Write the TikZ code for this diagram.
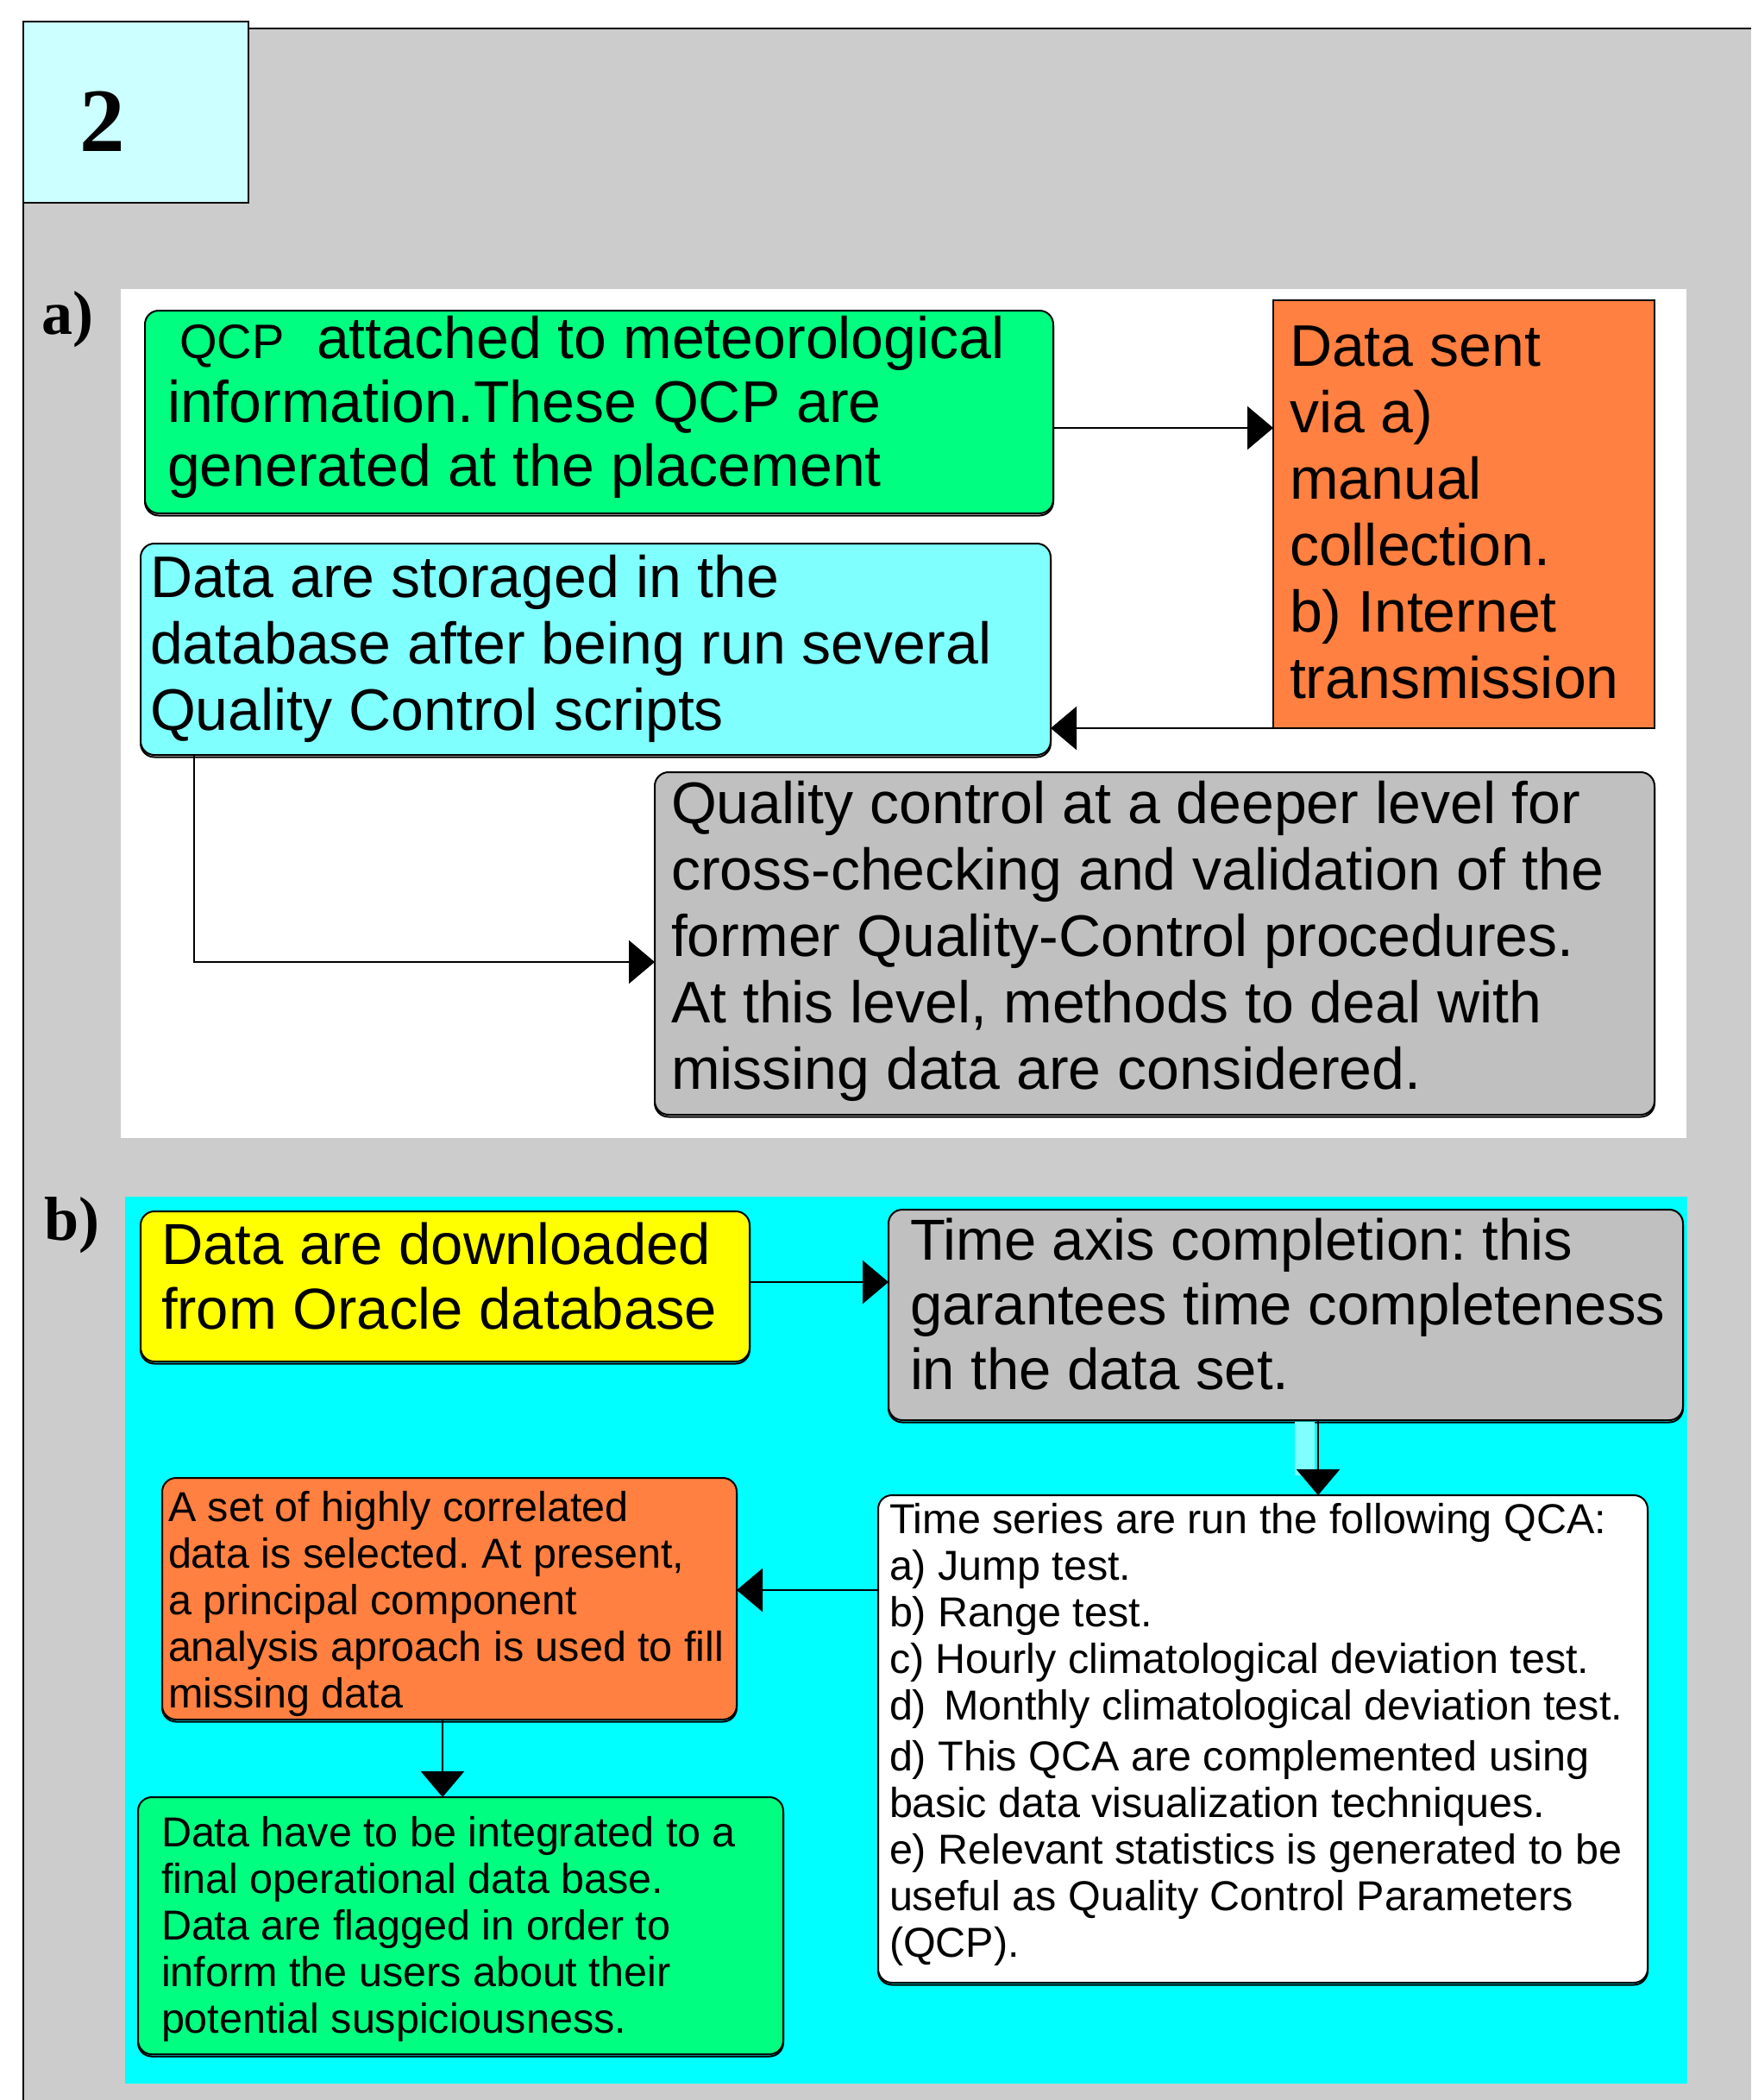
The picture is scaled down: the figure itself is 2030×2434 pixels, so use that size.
\documentclass[tikz,border=0pt]{standalone}
\usepackage{fontspec}
\setmainfont{Liberation Sans}
\newfontfamily\labelserif{Liberation Serif}
\usetikzlibrary{arrows.meta}
\definecolor{panelgray}{HTML}{CCCCCC}
\definecolor{numcyan}{HTML}{CCFFFF}
\definecolor{boxgreen}{HTML}{00FF80}
\definecolor{boxorange}{HTML}{FF8040}
\definecolor{boxcyan}{HTML}{80FFFF}
\definecolor{boxgray}{HTML}{C0C0C0}
\definecolor{panelcyan}{HTML}{00FFFF}
\definecolor{boxyellow}{HTML}{FFFF00}
\newcommand{\boxlines}[1]{\begin{tabular}[t]{@{}l@{}}#1\end{tabular}}
\frenchspacing
\begin{document}
\begin{tikzpicture}[x=1pt,y=-1pt,
  flowbox/.style={draw=black, line width=2pt, rounded corners=16pt, inner sep=0pt, outer sep=0pt, anchor=north west,
     preaction={draw=black, line width=2pt, transform canvas={yshift=-2.5pt}}},
  sharpbox/.style={draw=black, line width=2pt, inner sep=0pt, outer sep=0pt, anchor=north west},
  boxtext/.style={inner sep=0pt, outer sep=0pt, anchor=base west},
  bigtext/.style={font=\fontsize{68}{#1}\selectfont},
  smalltext/.style={font=\fontsize{48.5}{54}\selectfont},
  paneltag/.style={inner sep=0pt, anchor=base west, font=\labelserif\bfseries\fontsize{72}{80}\selectfont},
  arr/.style={line width=2.5pt, -{Triangle[length=30pt,width=50pt]}}
]
\useasboundingbox (0,0) rectangle (2030,2434);
\fill[white] (0,0) rectangle (2030,2434);
% outer panel
\fill[panelgray] (27,33) rectangle (2030,2434);
\draw[line width=2pt] (27,2434) -- (27,33) -- (2030,33);
\node[sharpbox, fill=numcyan, minimum width=261pt, minimum height=210pt] (numbox) at (27,25) {};
\node[inner sep=0pt, anchor=base west, font=\labelserif\bfseries\fontsize{105}{110}\selectfont] (numlabel) at (92,175) {2};
\node[paneltag] (taga) at (48,387) {a)};
\node[paneltag] (tagb) at (51,1437) {b)};
% sub-panels
\fill[white] (140,335) rectangle (1955,1319);
\fill[panelcyan] (145,1387) rectangle (1956,2415);

% ---------- panel a ----------
\node[flowbox, fill=boxgreen, minimum width=1053pt, minimum height=235pt] (greenA) at (168,360) {};
\node[boxtext, bigtext=74] (greenAtext) at (194,415) {\boxlines{\hspace*{14pt}{\fontsize{56}{74}\selectfont QCP}\ \ attached to meteorological\\ information.These QCP are\\ generated at the placement}};

\node[sharpbox, fill=boxorange, minimum width=442pt, minimum height=496pt] (orangeA) at (1476,348) {};
\node[boxtext, bigtext=77] (orangeAtext) at (1495,424) {\boxlines{Data sent\\ via a)\\ manual\\ collection.\\ b) Internet\\ transmission}};

\node[flowbox, fill=boxcyan, minimum width=1055pt, minimum height=245pt] (cyanA) at (163,630) {};
\node[boxtext, bigtext=77] (cyanAtext) at (174,692) {\boxlines{Data are storaged in the\\ database after being run several\\ Quality Control scripts}};

\node[flowbox, fill=boxgray, minimum width=1159pt, minimum height=397pt] (grayA) at (759,895) {};
\node[boxtext, bigtext=77] (grayAtext) at (778,954) {\boxlines{Quality control at a deeper level for\\ cross-checking and validation of the\\ former Quality-Control procedures.\\ At this level, methods to deal with\\ missing data are considered.}};

\draw[arr] (greenA.east |- 0,496) -- (orangeA.west |- 0,496);
\draw[arr] (orangeA.south west) -- (cyanA.east |- orangeA.south west);
\draw[arr] (cyanA.south -| 225,0) |- (grayA.west |- 0,1115);

% ---------- panel b ----------
\node[flowbox, fill=boxyellow, minimum width=706pt, minimum height=174pt] (yellowB) at (163,1404) {};
\node[boxtext, font=\fontsize{67}{75}\selectfont] (yellowBtext) at (187,1465) {\boxlines{Data are downloaded\\ from Oracle database}};

\node[flowbox, fill=boxgray, minimum width=921pt, minimum height=244pt] (grayB) at (1030,1402) {};
\node[boxtext, font=\fontsize{67}{75}\selectfont] (grayBtext) at (1055,1460) {\boxlines{Time axis completion: this\\ garantees time completeness\\ in the data set.}};

\node[flowbox, fill=white, minimum width=892pt, minimum height=565pt] (whiteB) at (1018,1733) {};
\node[boxtext, smalltext] (whiteBtext) at (1031,1777) {\boxlines{Time series are run the following QCA:\\ a) Jump test.\\ b) Range test.\\ c) Hourly climatological deviation test.\\ d)\hspace{20pt}Monthly climatological deviation test.\\[5pt] d) This QCA are complemented using\\ basic data visualization techniques.\\ e) Relevant statistics is generated to be\\ useful as Quality Control Parameters\\ (QCP).}};

\node[flowbox, fill=boxorange, minimum width=666pt, minimum height=280pt] (orangeB) at (188,1713) {};
\node[boxtext, smalltext] (orangeBtext) at (195,1763) {\boxlines{A set of highly correlated\\ data is selected. At present,\\ a principal component\\ analysis aproach is used to fill\\ missing data}};

\node[flowbox, fill=boxgreen, minimum width=748pt, minimum height=298pt] (greenB) at (160,2083) {};
\node[boxtext, smalltext] (greenBtext) at (187,2140) {\boxlines{Data have to be integrated to a\\ final operational data base.\\ Data are flagged in order to\\ inform the users about their\\ potential suspiciousness.}};

\fill[boxcyan] (1501,1648) rectangle (1524,1710);
\draw[arr] (yellowB.east |- 0,1486) -- (grayB.west |- 0,1486);
\draw[arr] (grayB.south -| 1528,0) -- (whiteB.north -| 1528,0);
\draw[arr] (whiteB.west |- 0,1843) -- (orangeB.east |- 0,1843);
\draw[arr] (orangeB.south -| 513,0) -- (greenB.north -| 513,0);
\end{tikzpicture}
\end{document}
